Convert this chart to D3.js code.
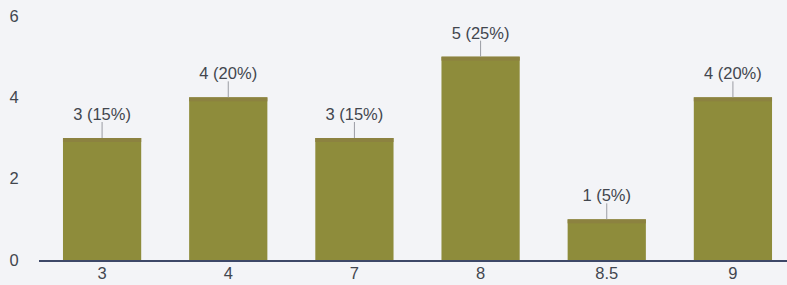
<!DOCTYPE html>
<html>
<head>
<meta charset="utf-8">
<script src="https://cdn.jsdelivr.net/npm/d3@7"></script>
<style>
  body { margin: 0; background: #f3f4f7; }
  svg { display: block; }
</style>
</head>
<body>
<script>
// values
var categories = ["3", "4", "7", "8", "8.5", "9"];
var counts = [3, 4, 3, 5, 1, 4];
var percents = [15, 20, 15, 25, 5, 20];
var yTicks = [0, 2, 4, 6];

var width = 787, height = 285;
var font = "Liberation Sans, Arial, sans-serif";

var svg = d3.select("body").append("svg")
    .attr("width", width)
    .attr("height", height);

var x = d3.scaleBand()
    .domain(categories)
    .range([39, 796])
    .paddingInner(0.38)
    .paddingOuter(0.19);

var y = d3.scaleLinear()
    .domain([0, 6])
    .range([260, 16]);

// y tick labels (no gridlines in the original)
svg.selectAll(".ylab")
    .data(yTicks)
    .enter().append("text")
    .attr("class", "ylab")
    .attr("x", 14)
    .attr("y", function(d) { return y(d); })
    .attr("dy", "0.35em")
    .attr("text-anchor", "middle")
    .attr("font-family", font)
    .attr("font-size", 16.5)
    .attr("fill", "#42464e")
    .text(function(d) { return d; });

var bar = svg.selectAll(".bar")
    .data(categories)
    .enter().append("g")
    .attr("class", "bar");

bar.append("rect")
    .attr("x", function(d) { return x(d); })
    .attr("width", x.bandwidth())
    .attr("y", function(d, i) { return y(counts[i]); })
    .attr("height", function(d, i) { return y(0) - y(counts[i]); })
    .attr("fill", "#8e8c3b");

// faint brownish tint at the top of each bar
bar.append("rect")
    .attr("x", function(d) { return x(d); })
    .attr("width", x.bandwidth())
    .attr("y", function(d, i) { return y(counts[i]); })
    .attr("height", 4)
    .attr("fill", "#8c8240");

// leader lines
bar.append("line")
    .attr("x1", function(d) { return x(d) + x.bandwidth() / 2; })
    .attr("x2", function(d) { return x(d) + x.bandwidth() / 2; })
    .attr("y1", function(d, i) { return y(counts[i]); })
    .attr("y2", function(d, i) { return y(counts[i]) - 16; })
    .attr("stroke", "#9a9ca3")
    .attr("stroke-width", 1);

bar.append("text")
    .attr("x", function(d) { return x(d) + x.bandwidth() / 2; })
    .attr("y", function(d, i) { return y(counts[i]) - 18; })
    .attr("text-anchor", "middle")
    .attr("font-family", font)
    .attr("font-size", 16.5)
    .attr("fill", "#42464e")
    .text(function(d, i) { return counts[i] + " (" + percents[i] + "%)"; });

// baseline
svg.append("line")
    .attr("x1", 39)
    .attr("x2", width)
    .attr("y1", y(0) + 1)
    .attr("y2", y(0) + 1)
    .attr("stroke", "#3d4868")
    .attr("stroke-width", 2);

// x labels
svg.selectAll(".xlab")
    .data(categories)
    .enter().append("text")
    .attr("class", "xlab")
    .attr("x", function(d) { return x(d) + x.bandwidth() / 2; })
    .attr("y", 279)
    .attr("text-anchor", "middle")
    .attr("font-family", font)
    .attr("font-size", 16.5)
    .attr("fill", "#42464e")
    .text(function(d) { return d; });
</script>
</body>
</html>
